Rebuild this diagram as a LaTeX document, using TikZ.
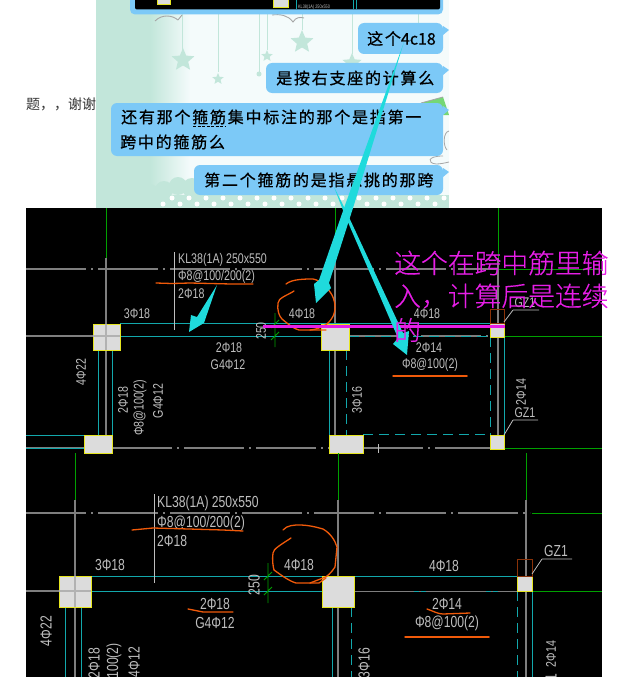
\documentclass[tikz,border=0pt]{standalone}
\usepackage{fontspec}
\setmainfont{Noto Sans CJK SC}
\newfontfamily\cjkfont{Noto Sans CJK SC}
\newfontfamily\magfont[FakeBold=0.4]{Noto Sans CJK SC Light}
\newfontfamily\chatfont[LetterSpace=11,FakeBold=0.6]{Noto Sans CJK SC}
\newfontfamily\chatlatin[FakeBold=0.6]{Noto Sans CJK SC}
\newfontfamily\cadfont[FakeStretch=0.76]{Liberation Sans}
\usetikzlibrary{shapes.geometric}
\definecolor{mint}{HTML}{C2E6DA}
\definecolor{paper}{HTML}{F4FBFB}
\definecolor{bub}{HTML}{7CC9F7}
\definecolor{arrowcy}{HTML}{1FDADC}
\definecolor{teal2}{HTML}{12A8AC}
\definecolor{mag}{HTML}{E61EE6}
\definecolor{org}{HTML}{F05A0A}
\definecolor{grn}{HTML}{00A000}
\definecolor{gry}{HTML}{7E7E7E}
\definecolor{cadt}{HTML}{BEBEBE}
\definecolor{colfill}{HTML}{DCDCDC}
\definecolor{colline}{HTML}{E6E620}
\definecolor{dkred}{HTML}{8A3208}
\tikzset{
  bubble/.style={fill=bub,rounded corners=6pt,draw=none},
  chat/.style={font=\chatfont\fontsize{16}{16}\selectfont,text=black,inner sep=0pt},
  cads/.style={font=\cadfont\fontsize{14}{14}\selectfont,text=cadt,inner sep=0pt},
  cadl/.style={font=\cadfont\fontsize{16}{16}\selectfont,text=cadt,inner sep=0pt},
  dd/.style={gry,line width=1.2pt,dash pattern=on 60pt off 5pt on 2pt off 5pt},
  tl/.style={teal2,line width=.95pt},
  td/.style={teal2,line width=.95pt,dash pattern=on 10pt off 6pt},
  gl/.style={grn,line width=1pt},
  vl/.style={gry,line width=1.2pt},
  col/.style={fill=colfill,draw=colline,line width=.9pt},
  rb/.style={draw=dkred,line width=.9pt},
  lead/.style={cadt,line width=.8pt},
  ink/.style={org,line width=1.3pt,line cap=round,line join=round},
  cyanarrow/.style={fill=arrowcy,draw=none},
  mtext/.style={font=\magfont\fontsize{26.8}{26.8}\selectfont,text=mag,inner sep=0pt,anchor=west},
  hang/.style={mint,line width=.8pt},
  starm/.style={star,star points=5,star point ratio=2.2,fill=mint,draw=none,inner sep=0pt}
}
\begin{document}
\begin{tikzpicture}[x=1pt,y=-1pt]
\useasboundingbox (0,0) rectangle (627,677);
\fill[white] (0,0) rectangle (627,677);
% left text
\node[font=\cjkfont\fontsize{14}{14}\selectfont,text=black!80,inner sep=0pt,anchor=west] (lefttxt) at (26,104) {题，，谢谢};
% chat background
\fill[mint] (96,0) rectangle (150,208);
\shade[left color=mint,right color=paper,draw=none] (150,0) rectangle (190,208);
\fill[paper] (190,0) rectangle (449,208);
% hanging decorations
\draw[hang] (182,14)--(182,50) (218,14)--(218,72) (259,14)--(259,72) (267,14)--(267,50) (302,14)--(302,30) (352,14)--(352,54) (418,14)--(418,23);
\fill[mint] (259,74) circle (2.5);
\node[starm,minimum size=24pt] (s1) at (183,60) {};
\node[starm,minimum size=12pt] (s2) at (218,79) {};
\node[starm,minimum size=12pt] (s3) at (267,56) {};
\node[starm,minimum size=24pt] (s4) at (302,42) {};
\node[starm,minimum size=20pt] (s5) at (352,63) {};
\draw[gray!70,line width=.9pt] (155,21) .. controls (162,14) and (172,15) .. (178,20) (178,20)--(182,15);
\draw[gray!70,line width=.9pt] (272,15) .. controls (280,14) and (288,15) .. (293,22) .. controls (296,17) and (300,17) .. (304,18);
% green roof and cloud on the right
\fill[green!55!gray!70] (421,103)--(443,97)--(449,115)--(443,115)--cycle;
\draw[gray!70,line width=.8pt] (421,103)--(443,97);
\draw[gray!70,line width=.8pt] (449,131) .. controls (443,132) and (443,146) .. (447,150) (443,156) .. controls (427,156) and (427,163) .. (436,164) .. controls (440,164) and (445,163) .. (449,162);
% bottom dotted band
\fill[mint] (96,195) rectangle (449,208);
\fill[mint] (150,192) circle (8) (164,190) circle (9) (178,186) circle (9) (192,188) circle (10) (206,192) circle (8);
\foreach \x in {172,189,...,449} \fill[white] (\x,198) circle (2.5);
\foreach \x in {163,180,...,449} \fill[white] (\x,204) circle (2.5);
% top bubble with black panel
\fill[bub,rounded corners=5pt] (130,-8) rectangle (443,14.5);
\fill[black,rounded corners=2pt] (135,-5) rectangle (440,9.5);
\fill[colfill] (157,0) rectangle (170,4);
\draw[colline,line width=.6pt] (157,0)--(157,4)--(170,4)--(170,0);
\fill[colfill] (273,0) rectangle (288,7);
\draw[colline,line width=.6pt] (273,0)--(273,7)--(288,7)--(288,0);
\draw[teal2,line width=.5pt] (353,0)--(353,9) (356,0)--(356,9) (296,0)--(296,9);
\node[font=\cadfont\fontsize{5}{5}\selectfont,text=cadt,inner sep=0pt,anchor=west] (tiny) at (298,7.5) {KL38(1A) 250x550};
% chat bubbles
\fill[bub] (443,26)--(449,30)--(443,35)--cycle (443,66)--(449,70)--(443,75)--cycle (443,106)--(449,110)--(443,115)--cycle (443,168)--(449,172)--(443,177)--cycle;
\fill[bubble] (358,23) rectangle (443,54);
\fill[bubble] (266,63) rectangle (443,93);
\fill[bubble] (111,103) rectangle (443,156);
\fill[bubble] (194,165) rectangle (443,195);
\node[chat,anchor=west] (c1) at (367,38.5) {这个{\chatlatin\fontsize{16}{16}\selectfont 4c18}};
\node[chat,anchor=west] (c2) at (276,78) {是按右支座的计算么};
\node[chat,anchor=west] (c3) at (121,117) {还有那个箍筋集中标注的那个是指第一};
\node[chat,anchor=west] (c4) at (120,142) {跨中的箍筋么};
\node[chat,anchor=west] (c5) at (204,180) {第二个箍筋的是指悬挑的那跨};
\draw[black,line width=.7pt,dash pattern=on 3pt off 1.5pt] (193,126.5)--(226,126.5);
% CAD panel
\fill[black] (26,208) rectangle (602,677);
\begin{scope}
\clip (26,208) rectangle (602,677);
% upper plan: axis lines
\draw[dd] (26,269)--(498,269);
\draw[gl] (498,269)--(602,269);
\draw[vl] (26,336)--(93,336);
\draw[dd] (349,336)--(490,336);
\draw[gl] (504,336)--(602,336);
\draw[vl] (26,448)--(84,448);
\draw[dd] (112,448)--(329,448);
\draw[dd] (363,448)--(490,448);
\draw[gl] (504,448)--(602,448);
\draw[gl] (106,208)--(106,258) (335,208)--(335,258) (498,208)--(498,258);
\draw[vl] (106,258)--(106,435) (335,258)--(335,435) (498,258)--(498,323) (498,337)--(498,435);
\draw[cadt,line width=.6pt] (378,444)--(378,453);
% upper plan: beams
\draw[tl] (120,323.5)--(490,323.5) (120,336)--(321,336) (26,435)--(84,435) (26,448)--(84,448);
\draw[td] (349,336)--(490,336) (363,434.5)--(490,434.5);
\draw[tl] (98,350)--(98,435) (112,350)--(112,435) (329,350)--(329,435) (504,337)--(504,435);
\draw[td] (346,350)--(346,435) (490,337)--(490,435);
\node[col,minimum width=27pt,minimum height=26pt,inner sep=0pt,anchor=north west] (u1) at (93,324) {};
\draw[vl,gray!60] (106,324)--(106,350) (93,336)--(120,336);
\node[col,minimum width=28pt,minimum height=26pt,inner sep=0pt,anchor=north west] (u2) at (321,324) {};
\node[col,minimum width=14pt,minimum height=14pt,inner sep=0pt,anchor=north west] (u3) at (490,323) {};
\node[rb,minimum width=14pt,minimum height=14pt,inner sep=0pt,anchor=north west] (u3r) at (490,309) {};
\node[col,minimum width=28pt,minimum height=18pt,inner sep=0pt,anchor=north west] (u4) at (84,435) {};
\node[col,minimum width=34pt,minimum height=18pt,inner sep=0pt,anchor=north west] (u5) at (329,435) {};
\node[col,minimum width=14pt,minimum height=14pt,inner sep=0pt,anchor=north west] (u6) at (490,435) {};
% upper plan: leaders and dimension
\draw[lead,line width=1pt] (174,252)--(174,330);
\draw[gl,line width=.9pt] (275,313)--(275,347) (271,328)--(279,320) (271,340)--(279,332);
\draw[lead] (513,310)--(539,310) (513,310)--(504,322) (513,420)--(538,420) (513,420)--(504,435);
% upper plan: text
\node[cads,anchor=west] (a1) at (178,260) {KL38(1A) 250x550};
\node[cads,anchor=west] (a2) at (178,277) {Φ8@100/200(2)};
\node[cads,anchor=west] (a3) at (178,294) {2Φ18};
\node[cads] (a4) at (137,314) {3Φ18};
\node[cads] (a5) at (302,314) {4Φ18};
\node[cads] (a6) at (229,348) {2Φ18};
\node[cads] (a7) at (228,365) {G4Φ12};
\node[cads,rotate=90] (a8) at (261,331) {250};
\node[cads,rotate=90] (a9) at (81,372) {4Φ22};
\node[cads,rotate=90] (a10) at (123,400) {2Φ18};
\node[cads,rotate=90] (a11) at (140,408) {Φ8@100(2)};
\node[cads,rotate=90] (a12) at (158,401) {G4Φ12};
\node[cads] (a13) at (427,314) {4Φ18};
\node[cads] (a14) at (429,348) {2Φ14};
\node[cads] (a15) at (430,365) {Φ8@100(2)};
\node[cads,rotate=90] (a16) at (357,400) {3Φ16};
\node[cads,rotate=90] (a17) at (521,392) {2Φ14};
\node[cads] (a18) at (525,413) {GZ1};
\node[cads] (a19) at (525,303) {GZ1};
% lower plan: axis lines
\draw[dd] (26,513)--(530,513);
\draw[gl] (532,513)--(602,513);
\draw[vl] (26,591)--(59,591);
\draw[gl] (75,453)--(75,500) (338,453)--(338,500) (526,453)--(526,500);
\draw[vl] (75,500)--(75,677) (338,500)--(338,677) (526,500)--(526,576) (526,591)--(526,677);
\draw[gl] (532,591)--(602,591);
% lower plan: beams
\draw[tl] (91,576)--(517,576) (91,591)--(322,591);
\draw[tl] (354,591)--(517,591);
\draw[dd,line width=.8pt] (354,591)--(517,591);
\draw[tl] (65,607)--(65,677) (81,607)--(81,677) (332,607)--(332,677) (532,591)--(532,677);
\draw[td] (351,607)--(351,677) (517,591)--(517,677);
\node[col,minimum width=32pt,minimum height=31pt,inner sep=0pt,anchor=north west] (l1) at (59,576) {};
\draw[vl,gray!60] (75,576)--(75,607) (59,591)--(91,591);
\node[col,minimum width=32pt,minimum height=31pt,inner sep=0pt,anchor=north west] (l2) at (322,576) {};
\node[col,minimum width=15pt,minimum height=15pt,inner sep=0pt,anchor=north west] (l3) at (517,576) {};
\node[rb,minimum width=15pt,minimum height=17pt,inner sep=0pt,anchor=north west] (l3r) at (517,559) {};
% lower plan: leaders and dimension
\draw[lead,line width=1pt] (154,494)--(154,583);
\draw[gl,line width=.9pt] (268,563)--(268,603) (264,580)--(272,572) (264,595)--(272,587);
\draw[lead] (542,559)--(572,559) (542,559)--(532,574);
% lower plan: text
\node[cadl,anchor=west] (b1) at (157,503) {KL38(1A) 250x550};
\node[cadl,anchor=west] (b2) at (157,523) {Φ8@100/200(2)};
\node[cadl,anchor=west] (b3) at (157,541) {2Φ18};
\node[cadl] (b4) at (110,565) {3Φ18};
\node[cadl] (b5) at (299,565) {4Φ18};
\node[cadl] (b6) at (215,604) {2Φ18};
\node[cadl] (b7) at (215,623) {G4Φ12};
\node[cadl,rotate=90] (b8) at (254,585) {250};
\node[cadl,rotate=90] (b9) at (46,631) {4Φ22};
\node[cadl,rotate=90] (b10) at (94,663) {2Φ18};
\node[cadl,rotate=90,anchor=east] (b11) at (114,643) {Φ8@100(2)};
\node[cadl,rotate=90,anchor=east] (b12) at (134,647) {G4Φ12};
\node[cadl] (b13) at (444,566) {4Φ18};
\node[cadl] (b14) at (447,604) {2Φ14};
\node[cadl] (b15) at (447,623) {Φ8@100(2)};
\node[cadl,rotate=90] (b16) at (364,663) {3Φ16};
\node[cads,rotate=90] (b17) at (551,654) {2Φ14};
\node[cadl,rotate=90,anchor=east] (b18) at (551,674) {GZ1};
\node[cadl] (b19) at (556,551) {GZ1};
% red ink
\draw[ink] (156,283)--(172,283.5)--(190,283)--(231,284)--(253,284);
\draw[ink] (286,284)..controls (292,279) and (305,279) .. (313,279) .. controls (320,280) and (328,288) .. (332,295) .. controls (336,303) and (336,312) .. (332,318) .. controls (328,325) and (320,329) .. (310,330);
\draw[ink] (294,291) .. controls (288,295) and (278,298) .. (278,303) .. controls (277,310) and (279,316) .. (282,319) .. controls (288,324) and (294,329) .. (299,330) -- (326,330);
\draw[ink,line width=1.5pt] (393,376)--(467,376);
\draw[ink] (132,530)--(153,528)--(189,529)--(223,530)--(243,531);
\draw[ink] (283,530) .. controls (287,525) and (295,525) .. (299,525) .. controls (308,525) and (316,527) .. (323,529) .. controls (330,533) and (335,540) .. (337,547) -- (335,567) .. controls (331,573) and (327,577) .. (323,578) -- (310,583);
\draw[ink] (291,538) .. controls (282,544) and (273,549) .. (273,553) .. controls (272,560) and (273,566) .. (274,570) .. controls (281,575) and (289,581) .. (296,583) -- (319,583) -- (326,578);
\draw[ink] (188,609) -- (203,612) -- (233,612);
\draw[ink] (427,609) .. controls (433,611) and (438,614) .. (443,614) -- (470,613);
\draw[ink,line width=1.5pt] (405,637)--(489,637);
% magenta line
\draw[mag,line width=2.4pt] (263,326.5)--(505,326.5);
\end{scope}
% cyan arrows
\fill[cyanarrow] (404,42)--(353,208)--(329,283)--(331,288)--(316,303)--(314,284)--(319,280)--(344,208)--cycle;
\fill[cyanarrow] (334,187)--(347,213)--(403,333)--(409,331)--(407,355)--(393,344)--(398,338)--(344,213)--cycle;
\fill[cyanarrow] (217,285)--(204,323)--(189,332)--(191,315)--(197,317)--cycle;
% magenta text
\node[mtext] (m1) at (394,263) {这个在跨中筋里输};
\node[mtext] (m2) at (394,296) {入，计算后是连续};
\node[mtext] (m3) at (394,330) {的};
\end{tikzpicture}
\end{document}
